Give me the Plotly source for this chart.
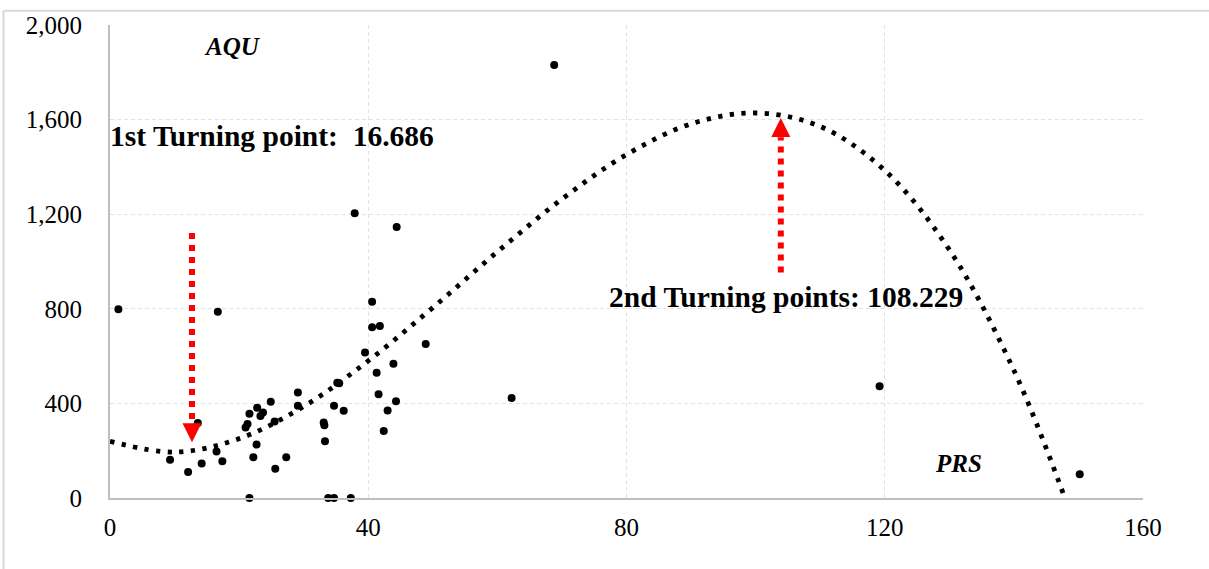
import plotly.graph_objects as go

# ---- data ----
prs = [1.3, 16.7, 13.6, 9.3, 12.1, 14.2, 16.5, 17.4, 21.6, 22.8, 23.7, 23.3, 24.9,
       21.3, 21.0, 22.7, 22.2, 25.6, 27.3, 25.5, 29.1, 29.1, 33.1, 33.2, 33.3, 34.7,
       36.2, 35.2, 35.5, 21.6, 33.8, 34.7, 37.3, 37.9, 44.4, 40.6, 40.6, 41.8, 39.5,
       41.3, 43.9, 48.9, 41.6, 44.3, 43.0, 42.4, 68.8, 62.2, 119.2, 150.2]
aqu = [798, 787, 317, 162, 110, 146, 197, 155, 356, 382, 361, 347, 407,
       313, 298, 226, 172, 124, 172, 323, 446, 390, 319, 308, 240, 390,
       369, 487, 485, 0, 0, 0, 0, 1204, 1146, 830, 722, 727, 615,
       530, 568, 651, 439, 409, 370, 283, 1831, 423, 473, 100]

# polynomial trend line
trend_x = [0, 10, 20, 30, 40, 50, 60, 70, 80, 90, 100, 110, 120, 130, 140, 147.9]
trend_y = [240, 194, 251, 387, 580, 805, 1041, 1264, 1452, 1582, 1628, 1571, 1385, 1050, 540, 0]

# red arrows marking turning points
arrow_x = [12.7, 103.9]
arrow_from_y = [1121, 954]
arrow_base_y = [318, 1525]
arrow_tip_y = [236, 1607]
arrow_symbol = ["arrow-down", "arrow-up"]

x_ticks = [0, 40, 80, 120, 160]
y_ticks = [0, 400, 800, 1200, 1600, 2000]

SERIF = "Liberation Serif, Times New Roman, serif"

fig = go.Figure()

fig.add_trace(go.Scatter(
    x=trend_x, y=trend_y, mode="lines", line_shape="spline",
    line=dict(color="black", width=4.8, dash="4.3px,7.4px"),
    hoverinfo="skip", cliponaxis=False))

fig.add_trace(go.Scatter(
    x=prs, y=aqu, mode="markers",
    marker=dict(color="black", size=8), cliponaxis=False))

for i in range(len(arrow_x)):
    fig.add_shape(type="line", xref="x", yref="y",
                  x0=arrow_x[i], x1=arrow_x[i], y0=arrow_from_y[i], y1=arrow_base_y[i],
                  line=dict(color="#ff0000", width=6, dash="6px,6px"))
    fig.add_trace(go.Scatter(
        x=[arrow_x[i]], y=[arrow_tip_y[i]], mode="markers",
        marker=dict(symbol=arrow_symbol[i], size=19, color="#ff0000",
                    line=dict(width=0)),
        cliponaxis=False))

ann_font = dict(family=SERIF, size=29.5, color="black")
fig.add_annotation(x=0, y=1530, xref="x", yref="y", xanchor="left", yanchor="middle",
                   xshift=-2,
                   text="<b>1st Turning point: \u00a016.686</b>", showarrow=False, font=ann_font)
fig.add_annotation(x=77.0, y=852, xref="x", yref="y", xanchor="left", yanchor="middle",
                   text="<b>2nd Turning points: 108.229</b>", showarrow=False, font=ann_font)
fig.add_annotation(x=18.9, y=1911, xref="x", yref="y", xanchor="center", yanchor="middle",
                   text="<b><i>AQU</i></b>", showarrow=False,
                   font=dict(family=SERIF, size=25, color="black"))
fig.add_annotation(x=131.4, y=145, xref="x", yref="y", xanchor="center", yanchor="middle",
                   text="<b><i>PRS</i></b>", showarrow=False,
                   font=dict(family=SERIF, size=25, color="black"))

# outer frame (top and left edges visible)
fig.add_shape(type="line", xref="paper", yref="paper", x0=-0.1031, x1=1.07,
              y0=1.0303, y1=1.0303, line=dict(color="#d9d9d9", width=2))
fig.add_shape(type="line", xref="paper", yref="paper", x0=-0.1031, x1=-0.1031,
              y0=1.0303, y1=-0.16, line=dict(color="#d9d9d9", width=2))

fig.update_layout(
    width=1209, height=569, autosize=False,
    margin=dict(l=110, r=66, t=20, b=71),
    paper_bgcolor="white", plot_bgcolor="white",
    showlegend=False,
    font=dict(family=SERIF, size=25, color="black"),
)
fig.update_xaxes(
    range=[0, 160], tickvals=x_ticks, ticktext=[str(v) for v in x_ticks],
    showgrid=True, gridcolor="#e3e3e3", griddash="4px,3px", gridwidth=1,
    showline=True, linecolor="#bfbfbf", linewidth=2, zeroline=False,
    ticks="", ticklabelstandoff=6,
    tickfont=dict(family=SERIF, size=25, color="black"))
fig.update_yaxes(
    range=[0, 2000], tickvals=y_ticks, ticktext=[f"{v:,}" for v in y_ticks],
    showgrid=True, gridcolor="#e3e3e3", griddash="4px,3px", gridwidth=1,
    showline=True, linecolor="#bfbfbf", linewidth=2, zeroline=False,
    ticks="", ticklabelstandoff=21,
    tickfont=dict(family=SERIF, size=25, color="black"))

fig.write_html("out.html", config={"displayModeBar": False},
               post_script="document.body.style.margin='0';")
